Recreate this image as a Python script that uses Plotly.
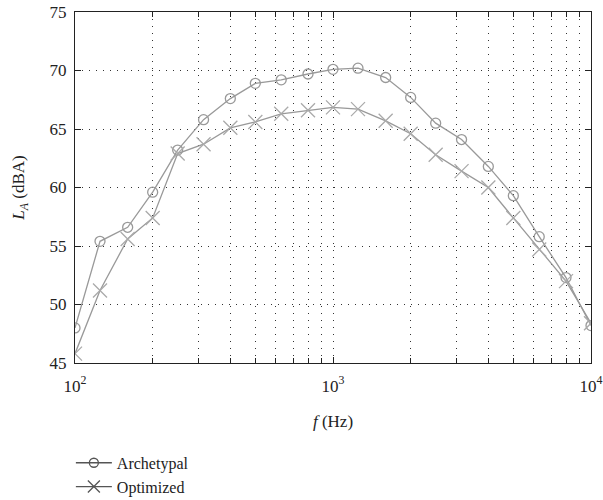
import plotly.graph_objects as go

freqs = [100, 125, 160, 200, 250, 315, 400, 500, 630, 800, 1000, 1250, 1600,
         2000, 2500, 3150, 4000, 5000, 6300, 8000, 10000]
archetypal = [48.0, 55.4, 56.6, 59.6, 63.2, 65.8, 67.6, 68.9, 69.2, 69.7, 70.1,
              70.2, 69.4, 67.7, 65.5, 64.1, 61.8, 59.3, 55.8, 52.3, 48.2]
optimized = [45.8, 51.2, 55.6, 57.4, 62.9, 63.7, 65.1, 65.6, 66.3, 66.6, 66.85,
             66.7, 65.7, 64.6, 62.8, 61.4, 60.0, 57.4, 54.7, 52.0, 48.4]
series_names = ["Archetypal", "Optimized"]
x_tickvals = [100, 1000, 10000]
x_ticktext = ["10<sup>2</sup>", "10<sup>3</sup>", "10<sup>4</sup>"]
x_minor_vals = [200, 300, 400, 500, 600, 700, 800, 900,
                2000, 3000, 4000, 5000, 6000, 7000, 8000, 9000]

FONT = "Liberation Serif"
GRAY = "#999999"
DARK = "#555555"
GRID_DASH = "1px,6px"

fig = go.Figure()
fig.add_trace(go.Scatter(
    x=freqs, y=archetypal, mode="lines+markers", showlegend=False,
    line=dict(color=GRAY, width=1.3),
    marker=dict(symbol="circle-open", size=10, color=GRAY, line=dict(width=1.3)),
))
fig.add_trace(go.Scatter(
    x=freqs, y=optimized, mode="lines+markers", showlegend=False,
    line=dict(color=GRAY, width=1.3),
    marker=dict(symbol="x-thin-open", size=14, color="#aaaaaa", line=dict(width=1.3, color="#aaaaaa")),
))
# legend entries
fig.add_trace(go.Scatter(
    x=[None], y=[None], mode="lines+markers", name=series_names[0],
    line=dict(color=DARK, width=1.3),
    marker=dict(symbol="circle-open", size=9, color=DARK, line=dict(width=1.3)),
))
fig.add_trace(go.Scatter(
    x=[None], y=[None], mode="lines+markers", name=series_names[1],
    line=dict(color=DARK, width=1.3),
    marker=dict(symbol="x-thin-open", size=12, color=DARK, line=dict(width=1.3, color=DARK)),
))

fig.update_layout(
    width=603, height=500,
    margin=dict(l=75, r=12, t=12, b=137, autoexpand=False),
    plot_bgcolor="white", paper_bgcolor="white",
    font=dict(family=FONT, size=16, color="#222222"),
    legend=dict(x=-0.008, y=-0.236, xanchor="left", yanchor="top",
                font=dict(family=FONT, size=16, color="#222222"),
                tracegroupgap=0, itemwidth=36, bgcolor="rgba(0,0,0,0)"),
)
fig.update_xaxes(
    type="log", range=[2, 4], automargin=False,
    tickvals=x_tickvals, ticktext=x_ticktext,
    ticks="inside", ticklen=6, tickcolor="#222222",
    showline=True, linecolor="#222222", linewidth=1.2, mirror="allticks",
    showgrid=True, gridcolor="#333333", griddash=GRID_DASH, gridwidth=1,
    minor=dict(tickvals=x_minor_vals, ticks="inside", ticklen=5, tickcolor="#222222",
               showgrid=True, gridcolor="#333333", griddash=GRID_DASH, gridwidth=1),
    tickfont=dict(family=FONT, size=17), ticklabelstandoff=7,
    title=dict(text="<i>f</i> (Hz)", font=dict(family=FONT, size=17), standoff=20),
    zeroline=False,
)
fig.update_yaxes(
    range=[45, 75], dtick=5, automargin=False,
    ticks="inside", ticklen=6, tickcolor="#222222",
    showline=True, linecolor="#222222", linewidth=1.2, mirror="allticks",
    showgrid=True, gridcolor="#333333", griddash=GRID_DASH, gridwidth=1,
    tickfont=dict(family=FONT, size=17), ticklabelstandoff=4,
    title=dict(text="<i>L<sub>A</sub></i> (dBA)", font=dict(family=FONT, size=17), standoff=20),
    zeroline=False,
)

fig.write_html("out.html")
